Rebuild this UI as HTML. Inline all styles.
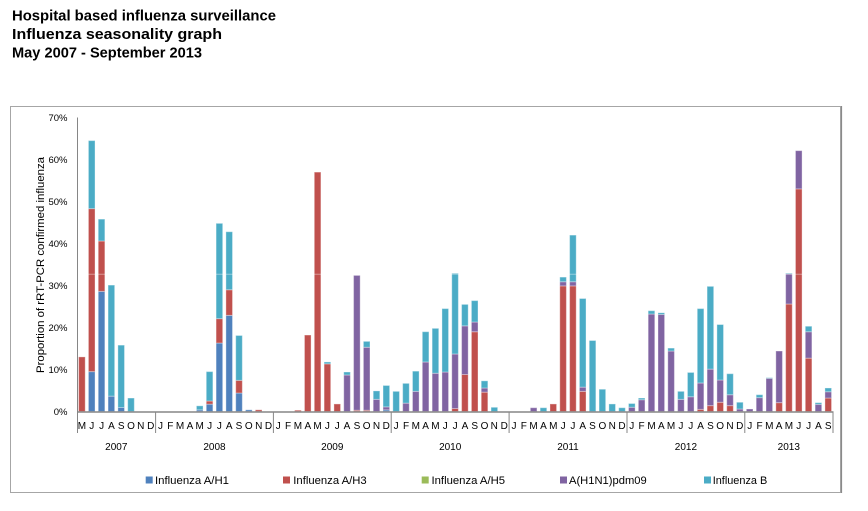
<!DOCTYPE html>
<html>
<head>
<meta charset="utf-8">
<style>
html,body{margin:0;padding:0;background:#fff;}
svg{display:block;}
.a{fill:#4F81BD}.b{fill:#C0504D}.p{fill:#8064A2}.t{fill:#4BACC6}
.bars rect{stroke:rgba(255,255,255,0.35);stroke-width:1;vector-effect:non-scaling-stroke;}
text{font-family:"Liberation Sans",Arial,sans-serif;fill:#000;}
.ttl{font-weight:bold;font-size:15px;}
.yl{font-size:9.5px;text-anchor:end;}
.m{font-size:10px;text-anchor:middle;}
.yr{font-size:10px;text-anchor:middle;}
.lg{font-size:11px;}
</style>
</head>
<body>
<svg width="868" height="511" viewBox="0 0 868 511" xmlns="http://www.w3.org/2000/svg">
<rect x="0" y="0" width="868" height="511" fill="#fff"/>
<!-- title -->
<text class="ttl" x="12" y="20.7" textLength="264" lengthAdjust="spacingAndGlyphs">Hospital based influenza surveillance</text>
<text class="ttl" x="12" y="39" textLength="210" lengthAdjust="spacingAndGlyphs">Influenza seasonality graph</text>
<text class="ttl" x="12" y="57.3" textLength="190" lengthAdjust="spacingAndGlyphs">May 2007 - September 2013</text>

<!-- chart border -->
<rect x="10.5" y="106.5" width="830" height="386" fill="none" stroke="#a6a6a6" stroke-width="1"/>
<line x1="841.5" y1="106" x2="841.5" y2="493" stroke="#8a8a8a" stroke-width="1.2"/>

<!-- y labels -->
<text class="yl" x="67.5" y="415">0%</text>
<text class="yl" x="67.5" y="373">10%</text>
<text class="yl" x="67.5" y="331">20%</text>
<text class="yl" x="67.5" y="289">30%</text>
<text class="yl" x="67.5" y="247">40%</text>
<text class="yl" x="67.5" y="205">50%</text>
<text class="yl" x="67.5" y="163">60%</text>
<text class="yl" x="67.5" y="121">70%</text>

<!-- y title -->
<text x="0" y="0" font-size="11" text-anchor="middle" transform="translate(44,265) rotate(-90)" textLength="216" lengthAdjust="spacingAndGlyphs">Proportion of rRT-PCR confirmed influenza</text>

<!-- bars -->
<g class="bars" transform="translate(77,411.5) scale(9.82,-4.2)">
<rect class="b" x="0.164" y="0" width="0.672" height="13"/>
<rect class="a" x="1.164" y="0" width="0.672" height="9.5"/>
<rect class="b" x="1.164" y="9.5" width="0.672" height="38.8"/>
<rect class="t" x="1.164" y="48.3" width="0.672" height="16.2"/>
<rect class="a" x="2.164" y="0" width="0.672" height="28.6"/>
<rect class="b" x="2.164" y="28.6" width="0.672" height="12"/>
<rect class="t" x="2.164" y="40.6" width="0.672" height="5.2"/>
<rect class="a" x="3.164" y="0" width="0.672" height="3.65"/>
<rect class="t" x="3.164" y="3.65" width="0.672" height="26.45"/>
<rect class="a" x="4.164" y="0" width="0.672" height="0.95"/>
<rect class="t" x="4.164" y="0.95" width="0.672" height="14.85"/>
<rect class="t" x="5.164" y="0" width="0.672" height="3.2"/>

<rect class="a" x="12.164" y="0" width="0.672" height="0.4"/>
<rect class="t" x="12.164" y="0.4" width="0.672" height="0.95"/>
<rect class="a" x="13.164" y="0" width="0.672" height="1.75"/>
<rect class="b" x="13.164" y="1.75" width="0.672" height="0.75"/>
<rect class="t" x="13.164" y="2.5" width="0.672" height="7"/>
<rect class="a" x="14.164" y="0" width="0.672" height="16.3"/>
<rect class="b" x="14.164" y="16.3" width="0.672" height="5.8"/>
<rect class="t" x="14.164" y="22.1" width="0.672" height="22.7"/>
<rect class="a" x="15.164" y="0" width="0.672" height="22.9"/>
<rect class="b" x="15.164" y="22.9" width="0.672" height="6.1"/>
<rect class="t" x="15.164" y="29" width="0.672" height="13.8"/>
<rect class="a" x="16.164" y="0" width="0.672" height="4.4"/>
<rect class="b" x="16.164" y="4.4" width="0.672" height="3"/>
<rect class="t" x="16.164" y="7.4" width="0.672" height="10.7"/>
<rect class="a" x="17.164" y="0" width="0.672" height="0.4"/>
<rect class="b" x="18.164" y="0" width="0.672" height="0.4"/>

<rect class="b" x="22.164" y="0" width="0.672" height="0.3"/>
<rect class="b" x="23.164" y="0" width="0.672" height="18.2"/>
<rect class="b" x="24.164" y="0" width="0.672" height="57"/>
<rect class="b" x="25.164" y="0" width="0.672" height="11.35"/>
<rect class="t" x="25.164" y="11.35" width="0.672" height="0.45"/>
<rect class="b" x="26.164" y="0" width="0.672" height="1.8"/>
<rect class="p" x="27.164" y="0" width="0.672" height="8.7"/>
<rect class="t" x="27.164" y="8.7" width="0.672" height="0.7"/>
<rect class="b" x="28.164" y="0" width="0.672" height="0.3"/>
<rect class="p" x="28.164" y="0.3" width="0.672" height="32.1"/>
<rect class="b" x="29.164" y="0" width="0.672" height="0.3"/>
<rect class="p" x="29.164" y="0.3" width="0.672" height="15"/>
<rect class="t" x="29.164" y="15.3" width="0.672" height="1.4"/>
<rect class="p" x="30.164" y="0" width="0.672" height="2.9"/>
<rect class="t" x="30.164" y="2.9" width="0.672" height="2"/>
<rect class="a" x="31.164" y="0" width="0.672" height="0.4"/>
<rect class="p" x="31.164" y="0.4" width="0.672" height="0.7"/>
<rect class="t" x="31.164" y="1.1" width="0.672" height="5.1"/>

<rect class="t" x="32.164" y="0" width="0.672" height="4.8"/>
<rect class="p" x="33.164" y="0" width="0.672" height="2"/>
<rect class="t" x="33.164" y="2" width="0.672" height="4.7"/>
<rect class="p" x="34.164" y="0" width="0.672" height="4.8"/>
<rect class="t" x="34.164" y="4.8" width="0.672" height="4.8"/>
<rect class="p" x="35.164" y="0" width="0.672" height="11.8"/>
<rect class="t" x="35.164" y="11.8" width="0.672" height="7.2"/>
<rect class="p" x="36.164" y="0" width="0.672" height="9.1"/>
<rect class="t" x="36.164" y="9.1" width="0.672" height="10.7"/>
<rect class="p" x="37.164" y="0" width="0.672" height="9.4"/>
<rect class="t" x="37.164" y="9.4" width="0.672" height="15.1"/>
<rect class="b" x="38.164" y="0" width="0.672" height="0.7"/>
<rect class="p" x="38.164" y="0.7" width="0.672" height="13"/>
<rect class="t" x="38.164" y="13.7" width="0.672" height="19.2"/>
<rect class="b" x="39.164" y="0" width="0.672" height="8.8"/>
<rect class="p" x="39.164" y="8.8" width="0.672" height="11.6"/>
<rect class="t" x="39.164" y="20.4" width="0.672" height="5.1"/>
<rect class="b" x="40.164" y="0" width="0.672" height="19"/>
<rect class="p" x="40.164" y="19" width="0.672" height="2.3"/>
<rect class="t" x="40.164" y="21.3" width="0.672" height="5.1"/>
<rect class="b" x="41.164" y="0" width="0.672" height="4.6"/>
<rect class="p" x="41.164" y="4.6" width="0.672" height="1"/>
<rect class="t" x="41.164" y="5.6" width="0.672" height="1.7"/>
<rect class="t" x="42.164" y="0" width="0.672" height="1"/>

<rect class="p" x="46.164" y="0" width="0.672" height="0.9"/>
<rect class="t" x="47.164" y="0" width="0.672" height="0.9"/>
<rect class="b" x="48.164" y="0" width="0.672" height="1.8"/>
<rect class="b" x="49.164" y="0" width="0.672" height="29.9"/>
<rect class="p" x="49.164" y="29.9" width="0.672" height="1"/>
<rect class="t" x="49.164" y="30.9" width="0.672" height="1.1"/>
<rect class="b" x="50.164" y="0" width="0.672" height="29.9"/>
<rect class="p" x="50.164" y="29.9" width="0.672" height="1"/>
<rect class="t" x="50.164" y="30.9" width="0.672" height="11.1"/>
<rect class="b" x="51.164" y="0" width="0.672" height="4.8"/>
<rect class="p" x="51.164" y="4.8" width="0.672" height="1"/>
<rect class="t" x="51.164" y="5.8" width="0.672" height="21.1"/>
<rect class="t" x="52.164" y="0" width="0.672" height="16.9"/>
<rect class="t" x="53.164" y="0" width="0.672" height="5.3"/>
<rect class="t" x="54.164" y="0" width="0.672" height="1.8"/>
<rect class="t" x="55.164" y="0" width="0.672" height="0.9"/>

<rect class="p" x="56.164" y="0" width="0.672" height="1"/>
<rect class="t" x="56.164" y="1" width="0.672" height="0.9"/>
<rect class="p" x="57.164" y="0" width="0.672" height="2.8"/>
<rect class="t" x="57.164" y="2.8" width="0.672" height="0.4"/>
<rect class="p" x="58.164" y="0" width="0.672" height="23.2"/>
<rect class="t" x="58.164" y="23.2" width="0.672" height="0.8"/>
<rect class="p" x="59.164" y="0" width="0.672" height="23.1"/>
<rect class="t" x="59.164" y="23.1" width="0.672" height="0.4"/>
<rect class="p" x="60.164" y="0" width="0.672" height="14.4"/>
<rect class="t" x="60.164" y="14.4" width="0.672" height="0.7"/>
<rect class="p" x="61.164" y="0" width="0.672" height="2.9"/>
<rect class="t" x="61.164" y="2.9" width="0.672" height="1.9"/>
<rect class="p" x="62.164" y="0" width="0.672" height="3.5"/>
<rect class="t" x="62.164" y="3.5" width="0.672" height="5.8"/>
<rect class="b" x="63.164" y="0" width="0.672" height="0.5"/>
<rect class="p" x="63.164" y="0.5" width="0.672" height="6.3"/>
<rect class="t" x="63.164" y="6.8" width="0.672" height="17.7"/>
<rect class="b" x="64.164" y="0" width="0.672" height="1.4"/>
<rect class="p" x="64.164" y="1.4" width="0.672" height="8.7"/>
<rect class="t" x="64.164" y="10.1" width="0.672" height="19.7"/>
<rect class="b" x="65.164" y="0" width="0.672" height="2.2"/>
<rect class="p" x="65.164" y="2.2" width="0.672" height="5.3"/>
<rect class="t" x="65.164" y="7.5" width="0.672" height="13.2"/>
<rect class="b" x="66.164" y="0" width="0.672" height="1.4"/>
<rect class="p" x="66.164" y="1.4" width="0.672" height="2.6"/>
<rect class="t" x="66.164" y="4" width="0.672" height="5"/>
<rect class="p" x="67.164" y="0" width="0.672" height="0.6"/>
<rect class="t" x="67.164" y="0.6" width="0.672" height="1.6"/>

<rect class="p" x="68.164" y="0" width="0.672" height="0.6"/>
<rect class="p" x="69.164" y="0" width="0.672" height="3.3"/>
<rect class="t" x="69.164" y="3.3" width="0.672" height="0.7"/>
<rect class="p" x="70.164" y="0" width="0.672" height="7.9"/>
<rect class="t" x="70.164" y="7.9" width="0.672" height="0.15"/>
<rect class="b" x="71.164" y="0" width="0.672" height="2.1"/>
<rect class="p" x="71.164" y="2.1" width="0.672" height="12.3"/>
<rect class="b" x="72.164" y="0" width="0.672" height="25.6"/>
<rect class="p" x="72.164" y="25.6" width="0.672" height="7.2"/>
<rect class="t" x="72.164" y="32.8" width="0.672" height="0.15"/>
<rect class="b" x="73.164" y="0" width="0.672" height="53"/>
<rect class="p" x="73.164" y="53" width="0.672" height="9.1"/>
<rect class="b" x="74.164" y="0" width="0.672" height="12.7"/>
<rect class="p" x="74.164" y="12.7" width="0.672" height="6.3"/>
<rect class="t" x="74.164" y="19" width="0.672" height="1.3"/>
<rect class="p" x="75.164" y="0" width="0.672" height="1.7"/>
<rect class="t" x="75.164" y="1.7" width="0.672" height="0.4"/>
<rect class="b" x="76.164" y="0" width="0.672" height="3.2"/>
<rect class="p" x="76.164" y="3.2" width="0.672" height="1.5"/>
<rect class="t" x="76.164" y="4.7" width="0.672" height="0.9"/>
</g>

<!-- faint artifact line across bars -->
<line x1="77" y1="274.3" x2="833" y2="274.3" stroke="#ffffff" stroke-opacity="0.4" stroke-width="1"/>

<!-- axes -->
<line x1="77.5" y1="117.5" x2="77.5" y2="433" stroke="#868686" stroke-width="1"/>
<line x1="77" y1="412" x2="833.5" y2="412" stroke="#868686" stroke-width="1.5"/>
<g stroke="#868686" stroke-width="1">
<line x1="155.6" y1="411.5" x2="155.6" y2="433"/>
<line x1="273.4" y1="411.5" x2="273.4" y2="433"/>
<line x1="391.2" y1="411.5" x2="391.2" y2="433"/>
<line x1="509.1" y1="411.5" x2="509.1" y2="433"/>
<line x1="627" y1="411.5" x2="627" y2="433"/>
<line x1="744.8" y1="411.5" x2="744.8" y2="433"/>
<line x1="833" y1="411.5" x2="833" y2="433"/>
</g>

<!-- month labels -->
<g>
<text class="m" x="81.9" y="429">M</text>
<text class="m" x="91.7" y="429">J</text>
<text class="m" x="101.6" y="429">J</text>
<text class="m" x="111.4" y="429">A</text>
<text class="m" x="121.2" y="429">S</text>
<text class="m" x="131.0" y="429">O</text>
<text class="m" x="140.8" y="429">N</text>
<text class="m" x="150.7" y="429">D</text>
<text class="m" x="160.5" y="429">J</text>
<text class="m" x="170.3" y="429">F</text>
<text class="m" x="180.1" y="429">M</text>
<text class="m" x="189.9" y="429">A</text>
<text class="m" x="199.7" y="429">M</text>
<text class="m" x="209.6" y="429">J</text>
<text class="m" x="219.4" y="429">J</text>
<text class="m" x="229.2" y="429">A</text>
<text class="m" x="239.0" y="429">S</text>
<text class="m" x="248.8" y="429">O</text>
<text class="m" x="258.7" y="429">N</text>
<text class="m" x="268.5" y="429">D</text>
<text class="m" x="278.3" y="429">J</text>
<text class="m" x="288.1" y="429">F</text>
<text class="m" x="297.9" y="429">M</text>
<text class="m" x="307.8" y="429">A</text>
<text class="m" x="317.6" y="429">M</text>
<text class="m" x="327.4" y="429">J</text>
<text class="m" x="337.2" y="429">J</text>
<text class="m" x="347.0" y="429">A</text>
<text class="m" x="356.9" y="429">S</text>
<text class="m" x="366.7" y="429">O</text>
<text class="m" x="376.5" y="429">N</text>
<text class="m" x="386.3" y="429">D</text>
<text class="m" x="396.1" y="429">J</text>
<text class="m" x="406.0" y="429">F</text>
<text class="m" x="415.8" y="429">M</text>
<text class="m" x="425.6" y="429">A</text>
<text class="m" x="435.4" y="429">M</text>
<text class="m" x="445.2" y="429">J</text>
<text class="m" x="455.1" y="429">J</text>
<text class="m" x="464.9" y="429">A</text>
<text class="m" x="474.7" y="429">S</text>
<text class="m" x="484.5" y="429">O</text>
<text class="m" x="494.3" y="429">N</text>
<text class="m" x="504.2" y="429">D</text>
<text class="m" x="514.0" y="429">J</text>
<text class="m" x="523.8" y="429">F</text>
<text class="m" x="533.6" y="429">M</text>
<text class="m" x="543.4" y="429">A</text>
<text class="m" x="553.3" y="429">M</text>
<text class="m" x="563.1" y="429">J</text>
<text class="m" x="572.9" y="429">J</text>
<text class="m" x="582.7" y="429">A</text>
<text class="m" x="592.5" y="429">S</text>
<text class="m" x="602.4" y="429">O</text>
<text class="m" x="612.2" y="429">N</text>
<text class="m" x="622.0" y="429">D</text>
<text class="m" x="631.8" y="429">J</text>
<text class="m" x="641.6" y="429">F</text>
<text class="m" x="651.5" y="429">M</text>
<text class="m" x="661.3" y="429">A</text>
<text class="m" x="671.1" y="429">M</text>
<text class="m" x="680.9" y="429">J</text>
<text class="m" x="690.7" y="429">J</text>
<text class="m" x="700.6" y="429">A</text>
<text class="m" x="710.4" y="429">S</text>
<text class="m" x="720.2" y="429">O</text>
<text class="m" x="730.0" y="429">N</text>
<text class="m" x="739.8" y="429">D</text>
<text class="m" x="749.7" y="429">J</text>
<text class="m" x="759.5" y="429">F</text>
<text class="m" x="769.3" y="429">M</text>
<text class="m" x="779.1" y="429">A</text>
<text class="m" x="788.9" y="429">M</text>
<text class="m" x="798.8" y="429">J</text>
<text class="m" x="808.6" y="429">J</text>
<text class="m" x="818.4" y="429">A</text>
<text class="m" x="828.2" y="429">S</text>
</g>

<!-- year labels -->
<text class="yr" x="116.3" y="450">2007</text>
<text class="yr" x="214.5" y="450">2008</text>
<text class="yr" x="332.3" y="450">2009</text>
<text class="yr" x="450.2" y="450">2010</text>
<text class="yr" x="568" y="450">2011</text>
<text class="yr" x="685.9" y="450">2012</text>
<text class="yr" x="788.8" y="450">2013</text>

<!-- legend -->
<rect class="a" x="145.7" y="476.5" width="7" height="7"/>
<text class="lg" x="155" y="484" textLength="74" lengthAdjust="spacingAndGlyphs">Influenza A/H1</text>
<rect class="b" x="283" y="476.5" width="7" height="7"/>
<text class="lg" x="293.3" y="484" textLength="73.4" lengthAdjust="spacingAndGlyphs">Influenza A/H3</text>
<rect fill="#9BBB59" x="421.7" y="476.5" width="7" height="7"/>
<text class="lg" x="431.5" y="484" textLength="73.6" lengthAdjust="spacingAndGlyphs">Influenza A/H5</text>
<rect class="p" x="560" y="476.5" width="7" height="7"/>
<text class="lg" x="569" y="484" textLength="77.7" lengthAdjust="spacingAndGlyphs">A(H1N1)pdm09</text>
<rect class="t" x="704" y="476.5" width="7" height="7"/>
<text class="lg" x="712.7" y="484" textLength="54.6" lengthAdjust="spacingAndGlyphs">Influenza B</text>
</svg>
</body>
</html>
